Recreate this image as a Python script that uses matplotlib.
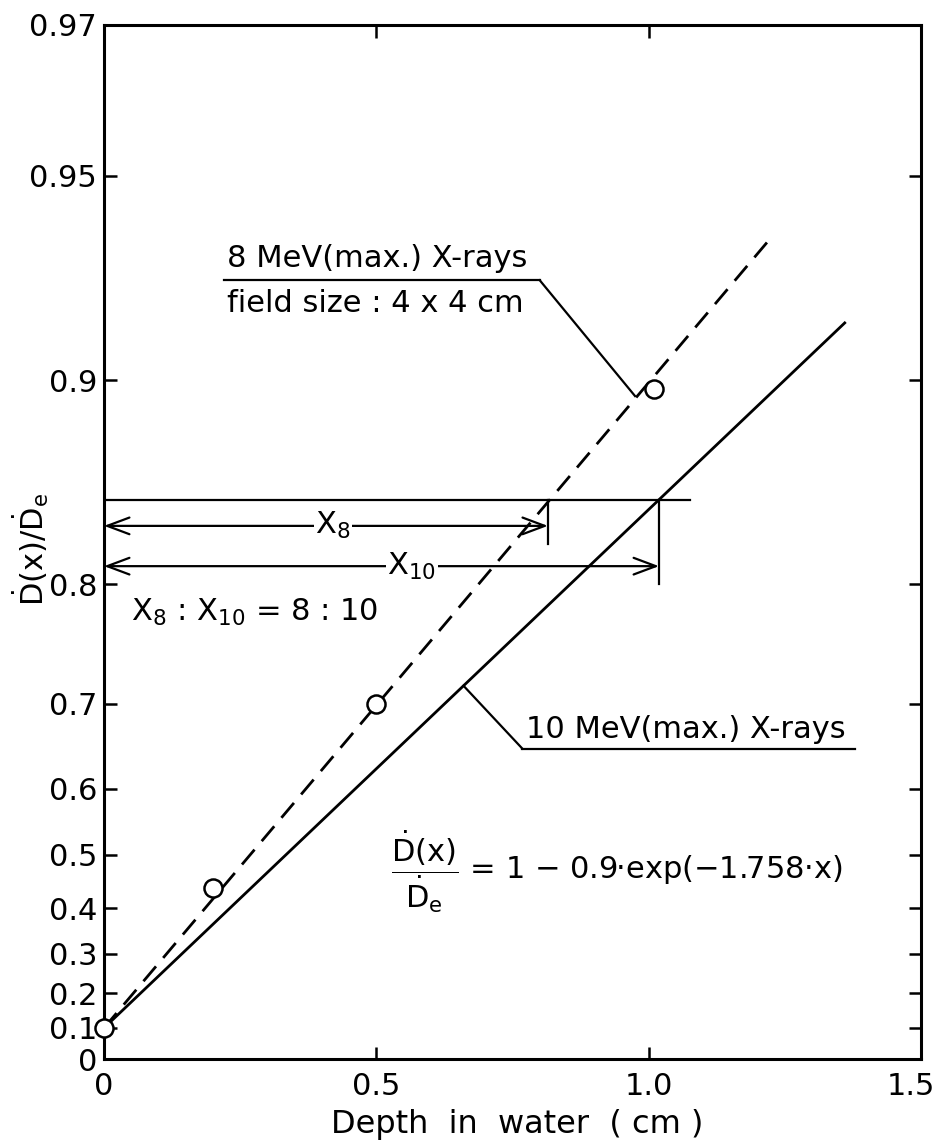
import numpy as np
import matplotlib.pyplot as plt
import matplotlib.transforms as mtransforms

plt.rcParams['font.family'] = 'DejaVu Sans'
plt.rcParams['mathtext.default'] = 'regular'

# Depth in water (cm) vs relative dose D(x)/De
depth_10 = [0.0, 1.36]          # 10 MeV line, end points
dose_10 = [0.1, 0.9176]
depth_8 = [0.0, 1.23]           # 8 MeV line, end points
dose_8 = [0.1, 0.939]
meas_depth = [0.0, 0.2, 0.5, 1.01]   # measured points, 8 MeV
meas_dose = [0.1, 0.44, 0.70, 0.897]

yticks = [0, 0.1, 0.2, 0.3, 0.4, 0.5, 0.6, 0.7, 0.8, 0.9, 0.95, 0.97]
ytick_labels = ['0', '0.1', '0.2', '0.3', '0.4', '0.5', '0.6', '0.7',
                '0.8', '0.9', '0.95', '0.97']
xticks = [0, 0.5, 1.0, 1.5]
xtick_labels = ['0', '0.5', '1.0', '1.5']

# construction for X8 : X10
level = 0.85
x8 = 0.815
x10 = 1.019


def fwd(y):
    return -np.log(np.clip(1 - np.asarray(y, dtype=float), 1e-9, None))


def inv(f):
    return 1 - np.exp(-np.asarray(f, dtype=float))


fig = plt.figure(figsize=(9.39, 11.45), dpi=100)
ax = fig.add_axes([0.1108, 0.0751, 0.8700, 0.9031])
ax.set_yscale('function', functions=(fwd, inv))
ax.set_xlim(0, 1.5)
ax.set_ylim(0, 0.97)

ax.set_yticks(yticks, ytick_labels)
ax.set_xticks(xticks, xtick_labels)
ax.minorticks_off()
ax.tick_params(direction='in', length=9, width=1.8, top=True, right=True,
               labelsize=22, pad=5)
ax.tick_params(axis='x', pad=9)
for s in ax.spines.values():
    s.set_linewidth(2.2)

# keep the last x label inside the figure
last = ax.get_xticklabels()[-1]
last.set_horizontalalignment('right')
last.set_transform(last.get_transform() +
                   mtransforms.ScaledTranslation(0.14, 0, fig.dpi_scale_trans))

# curves
ax.plot(depth_10, dose_10, color='k', lw=2)
ax.plot(depth_8, dose_8, color='k', lw=2, dashes=(7, 4))
ax.plot(meas_depth, meas_dose, 'o', mfc='white', mec='k', ms=13, mew=1.8,
        clip_on=False, zorder=5)

# reference level and depth arrows
ax.plot([0, 1.076], [level, level], color='k', lw=1.6)
ax.plot([x8, x8], [level, 0.8255], color='k', lw=1.6)
ax.plot([x10, x10], [level, 0.80], color='k', lw=1.6)
arr = dict(arrowstyle='<->,head_length=0.8,head_width=0.3', lw=1.6,
           shrinkA=0, shrinkB=0, mutation_scale=20, color='k')
ax.annotate('', xy=(0, 0.836), xytext=(x8, 0.836), arrowprops=arr)
ax.annotate('', xy=(0, 0.812), xytext=(x10, 0.812), arrowprops=arr)
ax.text(0.42, 0.836, 'X$_8$', ha='center', va='center', fontsize=22,
        bbox=dict(fc='white', ec='none', pad=1))
ax.text(0.565, 0.812, 'X$_{10}$', ha='center', va='center', fontsize=22,
        bbox=dict(fc='white', ec='none', pad=1))
ax.text(0.05, 0.78, 'X$_8$ : X$_{10}$ = 8 : 10', ha='left', va='center',
        fontsize=22)

# 8 MeV label
ax.plot([0.221, 0.80], [0.9287, 0.9287], color='k', lw=1.6)
ax.plot([0.80, 0.975], [0.9287, 0.8944], color='k', lw=1.6)
ax.text(0.225, 0.9305, '8 MeV(max.) X-rays', ha='left', va='bottom',
        fontsize=22)
ax.text(0.225, 0.9265, 'field size : 4 x 4 cm', ha='left', va='top',
        fontsize=22)

# 10 MeV label
ax.plot([0.66, 0.768], [0.718, 0.651], color='k', lw=1.6)
ax.plot([0.768, 1.378], [0.651, 0.651], color='k', lw=1.6)
ax.text(0.775, 0.656, '10 MeV(max.) X-rays', ha='left', va='bottom',
        fontsize=22)

ax.text(0.527, 0.4695,
        r'$\dfrac{\dot{D}(x)}{\dot{D}_e}$ = 1 − 0.9·exp(−1.758·x)',
        ha='left', va='center', fontsize=22)

fig.text(0.032, 0.52, r'$\dot{D}$(x)/$\dot{D}_e$', rotation=90,
         fontsize=22, ha='center', va='center')
fig.text(517 / 939, 1 - 1125 / 1145, 'Depth  in  water  ( cm )',
         ha='center', va='center', fontsize=23)

fig.savefig('out.png', dpi=100)
